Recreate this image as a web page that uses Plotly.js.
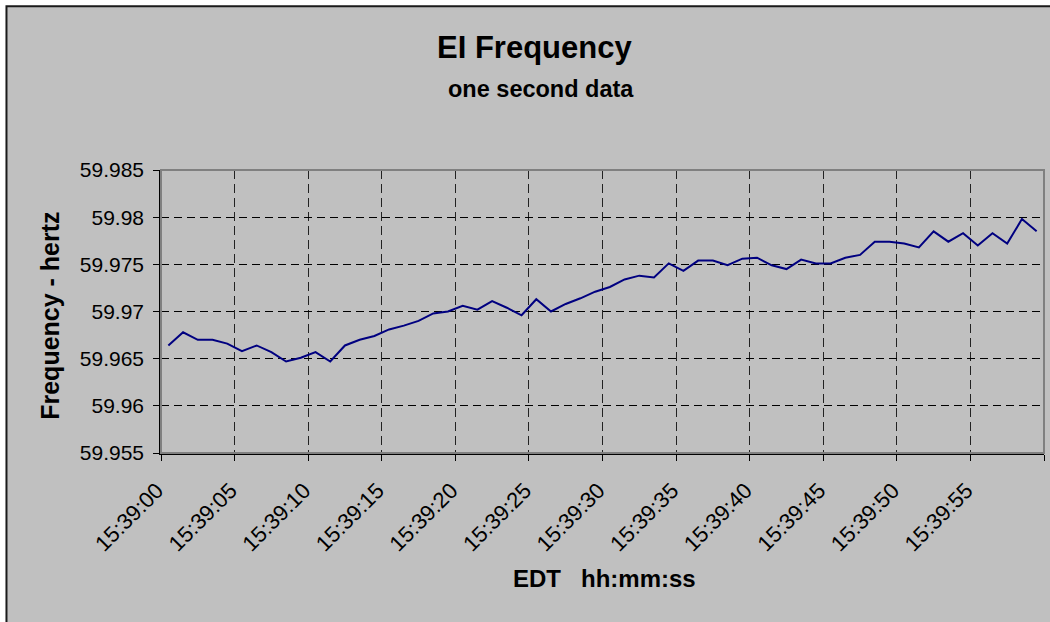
<!DOCTYPE html>
<html>
<head>
<meta charset="utf-8">
<script src="https://cdn.plot.ly/plotly-3.0.1.min.js"></script>
<style>
  html, body { margin: 0; padding: 0; background: #ffffff; }
  #chart { width: 1050px; height: 622px; }
</style>
</head>
<body>
<div id="chart"></div>
<script>
// ---- data ----
const timeLabels = [
  '15:39:00','15:39:01','15:39:02','15:39:03','15:39:04','15:39:05','15:39:06','15:39:07','15:39:08','15:39:09',
  '15:39:10','15:39:11','15:39:12','15:39:13','15:39:14','15:39:15','15:39:16','15:39:17','15:39:18','15:39:19',
  '15:39:20','15:39:21','15:39:22','15:39:23','15:39:24','15:39:25','15:39:26','15:39:27','15:39:28','15:39:29',
  '15:39:30','15:39:31','15:39:32','15:39:33','15:39:34','15:39:35','15:39:36','15:39:37','15:39:38','15:39:39',
  '15:39:40','15:39:41','15:39:42','15:39:43','15:39:44','15:39:45','15:39:46','15:39:47','15:39:48','15:39:49',
  '15:39:50','15:39:51','15:39:52','15:39:53','15:39:54','15:39:55','15:39:56','15:39:57','15:39:58','15:39:59'
];
const frequency = [
  59.9664, 59.9678, 59.9670, 59.9670, 59.9666, 59.9658, 59.9664, 59.9657, 59.9647, 59.9651,
  59.9657, 59.9647, 59.9664, 59.9670, 59.9674, 59.9681, 59.9685, 59.9690, 59.9698, 59.9700,
  59.9706, 59.9702, 59.9711, 59.9704, 59.9696, 59.9713, 59.9700, 59.9708, 59.9714, 59.9721,
  59.9726, 59.9734, 59.9738, 59.9736, 59.9751, 59.9743, 59.9754, 59.9754, 59.9749, 59.9756,
  59.9757, 59.9749, 59.9745, 59.9755, 59.9751, 59.9751, 59.9757, 59.9760, 59.9774, 59.9774,
  59.9772, 59.9768, 59.9785, 59.9774, 59.9783, 59.9770, 59.9783, 59.9772, 59.9798, 59.9785
];
const xTickLabels = ['15:39:00','15:39:05','15:39:10','15:39:15','15:39:20','15:39:25',
                     '15:39:30','15:39:35','15:39:40','15:39:45','15:39:50','15:39:55',''];
const yTickValues = [59.955, 59.96, 59.965, 59.97, 59.975, 59.98, 59.985];
const yTickLabels = ['59.955','59.96','59.965','59.97','59.975','59.98','59.985'];

// Excel-style category axis: each second occupies one slot, points sit in the middle of it
const xPos = timeLabels.map((_, i) => i + 0.5);
const xTickPos = xTickLabels.map((_, k) => k * 5);

const FONT = 'Liberation Sans, Arial, Helvetica, sans-serif';

const trace = {
  x: xPos,
  y: frequency,
  text: timeLabels,
  type: 'scatter',
  mode: 'lines',
  line: { color: '#000080', width: 2 },
  hovertemplate: '%{text}<br>%{y:.4f} Hz<extra></extra>',
  showlegend: false
};

const layout = {
  width: 1050,
  height: 622,
  margin: { l: 161, r: 6, t: 170, b: 169, pad: 0 },
  paper_bgcolor: '#ffffff',
  plot_bgcolor: '#c0c0c0',
  font: { family: FONT, color: '#000000' },
  showlegend: false,
  xaxis: {
    range: [0, 60],
    tickmode: 'array',
    tickvals: xTickPos,
    ticktext: xTickLabels,
    tickangle: -45,
    tickfont: { family: FONT, size: 22, color: '#000' },
    ticklabelstandoff: 8,
    ticklabelshift: -4,
    ticks: 'outside',
    ticklen: 6,
    tickwidth: 1,
    tickcolor: '#000',
    showline: true,
    linecolor: '#000',
    linewidth: 2,
    showgrid: true,
    gridcolor: '#222',
    gridwidth: 1,
    griddash: '9px,5px',
    zeroline: false,
    fixedrange: true
  },
  xaxis2: {
    overlaying: 'x',
    anchor: 'y',
    side: 'bottom',
    range: [0, 60],
    tickmode: 'array',
    tickvals: xTickPos,
    ticktext: xTickLabels,
    showticklabels: false,
    ticks: 'inside',
    ticklen: 6,
    tickwidth: 1,
    tickcolor: '#000',
    showline: false,
    showgrid: false,
    zeroline: false,
    fixedrange: true
  },
  yaxis: {
    range: [59.955, 59.985],
    tickmode: 'array',
    tickvals: yTickValues,
    ticktext: yTickLabels,
    tickfont: { family: FONT, size: 21, color: '#000' },
    ticks: 'outside',
    ticklen: 6,
    tickwidth: 1,
    tickcolor: '#000',
    ticklabelstandoff: 5,
    showline: true,
    linecolor: '#000',
    linewidth: 1.5,
    showgrid: true,
    gridcolor: '#000',
    gridwidth: 1,
    griddash: '8px,5px',
    zeroline: false,
    fixedrange: true
  },
  shapes: [
    { type: 'rect', xref: 'paper', yref: 'paper', layer: 'below',
      x0: -0.1750, x1: 1.2, y0: -1.2, y1: 1.5785,
      fillcolor: '#c0c0c0', line: { color: '#1a1a1a', width: 2 } },
    { type: 'rect', xref: 'paper', yref: 'paper', layer: 'above',
      x0: 0, x1: 1, y0: 0, y1: 1,
      fillcolor: 'rgba(0,0,0,0)', line: { color: '#808080', width: 2 } }
  ],
  annotations: [
    { text: '<b>EI Frequency</b>', xref: 'paper', yref: 'paper',
      x: 0.423, y: 1.4346, xanchor: 'center', yanchor: 'middle', showarrow: false,
      font: { family: FONT, size: 31, color: '#000' } },
    { text: '<b>one second data</b>', xref: 'paper', yref: 'paper',
      x: 0.4298, y: 1.285, xanchor: 'center', yanchor: 'middle', showarrow: false,
      font: { family: FONT, size: 23.5, color: '#000' } },
    { text: '<b>EDT&nbsp;&nbsp;&nbsp;hh:mm:ss</b>', xref: 'paper', yref: 'paper',
      x: 0.5028, y: -0.4444, xanchor: 'center', yanchor: 'middle', showarrow: false,
      font: { family: FONT, size: 24, color: '#000' } },
    { text: '<b>Frequency - hertz</b>', xref: 'paper', yref: 'paper', textangle: -90,
      x: -0.1251, y: 0.4832, xanchor: 'center', yanchor: 'middle', showarrow: false,
      font: { family: FONT, size: 25, color: '#000' } }
  ]
};

Plotly.newPlot('chart', [trace], layout, { displayModeBar: false, staticPlot: false, responsive: false });
</script>
</body>
</html>
